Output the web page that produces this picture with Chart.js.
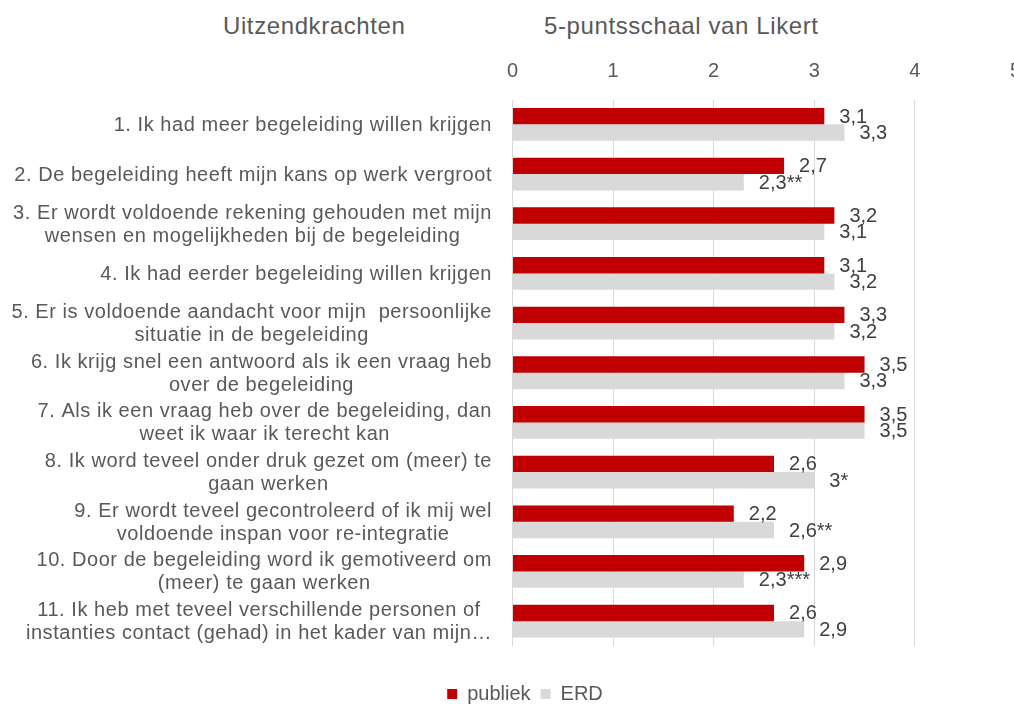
<!DOCTYPE html>
<html lang="nl">
<head>
    <meta charset="UTF-8">
    <title>Uitzendkrachten - 5-puntsschaal van Likert</title>
    <script src="https://cdn.jsdelivr.net/npm/chart.js"></script>
    <style>
        body {
            margin: 0;
            padding: 0;
            background: #ffffff;
            width: 1014px;
            height: 704px;
            overflow: hidden;
            position: relative;
            font-family: 'Liberation Sans', Arial, sans-serif;
        }

        .head {
            position: absolute;
            top: 14px;
            font-size: 24px;
            line-height: 24px;
            letter-spacing: 0.6px;
            color: #595959;
            white-space: nowrap;
        }

        #chart {
            position: absolute;
            left: 0;
            top: 0;
        }
    </style>
</head>
<body>
    <div class="head" style="left: 223px;">Uitzendkrachten</div>
    <div class="head" style="left: 544px;">5-puntsschaal van Likert</div>

    <canvas id="chart" width="1037" height="714"></canvas>

    <script>
        // statements (category labels, wrapped like the original)
        const categories = [
            ['1. Ik had meer begeleiding willen krijgen'],
            ['2. De begeleiding heeft mijn kans op werk vergroot'],
            ['3. Er wordt voldoende rekening gehouden met mijn', 'wensen en mogelijkheden bij de begeleiding'],
            ['4. Ik had eerder begeleiding willen krijgen'],
            ['5. Er is voldoende aandacht voor mijn  persoonlijke', 'situatie in de begeleiding'],
            ['6. Ik krijg snel een antwoord als ik een vraag heb', 'over de begeleiding'],
            ['7. Als ik een vraag heb over de begeleiding, dan', 'weet ik waar ik terecht kan'],
            ['8. Ik word teveel onder druk gezet om (meer) te', 'gaan werken'],
            ['9. Er wordt teveel gecontroleerd of ik mij wel', 'voldoende inspan voor re-integratie'],
            ['10. Door de begeleiding word ik gemotiveerd om', '(meer) te gaan werken'],
            ['11. Ik heb met teveel verschillende personen of', 'instanties contact (gehad) in het kader van mijn\u2026']
        ];

        // mean scores
        const publiek = [3.1, 2.7, 3.2, 3.1, 3.3, 3.5, 3.5, 2.6, 2.2, 2.9, 2.6];
        const erd = [3.3, 2.3, 3.1, 3.2, 3.2, 3.3, 3.5, 3.0, 2.6, 2.3, 2.9];

        // value labels as printed (with significance stars)
        const publiekLabels = ['3,1', '2,7', '3,2', '3,1', '3,3', '3,5', '3,5', '2,6', '2,2', '2,9', '2,6'];
        const erdLabels = ['3,3', '2,3**', '3,1', '3,2', '3,2', '3,3', '3,5', '3*', '2,6**', '2,3***', '2,9'];

        const xTicks = [0, 1, 2, 3, 4, 5];

        const textGrey = '#595959';
        const FONT = "'Liberation Sans', Arial, sans-serif";

        // category labels: block right-aligned next to the plot, lines centred inside the block
        const categoryLabels = {
            id: 'categoryLabels',
            afterDraw(chart) {
                const ctx = chart.ctx;
                const yScale = chart.scales.y;
                const right = chart.chartArea.left - 20.5;
                const lineH = 23;
                ctx.save();
                ctx.font = '20px ' + FONT;
                ctx.letterSpacing = '0.55px';
                ctx.fillStyle = textGrey;
                ctx.textAlign = 'center';
                ctx.textBaseline = 'middle';
                categories.forEach((lines, i) => {
                    const y = yScale.getPixelForValue(i);
                    const widest = Math.max(...lines.map(l => ctx.measureText(l).width));
                    const cx = right - widest / 2;
                    const top = y - (lines.length - 1) * lineH / 2;
                    lines.forEach((l, k) => ctx.fillText(l, cx, top + k * lineH + 1));
                });
                ctx.restore();
            }
        };

        // value labels just past the end of each bar
        const valueLabels = {
            id: 'valueLabels',
            afterDatasetsDraw(chart) {
                const ctx = chart.ctx;
                const sets = [publiekLabels, erdLabels];
                ctx.save();
                ctx.font = '20px ' + FONT;
                ctx.fillStyle = '#404040';
                ctx.textAlign = 'left';
                ctx.textBaseline = 'middle';
                chart.data.datasets.forEach((ds, d) => {
                    chart.getDatasetMeta(d).data.forEach((bar, i) => {
                        ctx.fillText(sets[d][i], bar.x + 15, bar.y + 1);
                    });
                });
                ctx.restore();
            }
        };

        new Chart(document.getElementById('chart'), {
            type: 'bar',
            data: {
                labels: categories.map(c => c.join(' ')),
                datasets: [
                    {
                        label: 'publiek',
                        data: publiek,
                        backgroundColor: '#C00000',
                        barPercentage: 1,
                        categoryPercentage: 0.66
                    },
                    {
                        label: 'ERD',
                        data: erd,
                        backgroundColor: '#D9D9D9',
                        barPercentage: 1,
                        categoryPercentage: 0.66
                    }
                ]
            },
            options: {
                indexAxis: 'y',
                responsive: false,
                animation: false,
                layout: {
                    padding: { left: 13, right: 0, top: 0, bottom: 0 }
                },
                plugins: {
                    tooltip: { enabled: false },
                    legend: {
                        position: 'bottom',
                        title: {
                            display: true,
                            text: '',
                            font: { size: 10 },
                            padding: { top: 16, bottom: 0 }
                        },
                        labels: {
                            color: textGrey,
                            font: { family: FONT, size: 20 },
                            boxWidth: 10,
                            boxHeight: 10,
                            padding: 10
                        }
                    }
                },
                scales: {
                    x: {
                        position: 'top',
                        min: 0,
                        max: 5,
                        afterBuildTicks(scale) {
                            scale.ticks = xTicks.map(v => ({ value: v }));
                        },
                        afterFit(scale) {
                            scale.height = 99.5;
                        },
                        grid: {
                            color: '#D9D9D9',
                            lineWidth: 1,
                            drawTicks: false
                        },
                        border: { display: false },
                        ticks: {
                            color: textGrey,
                            font: { family: FONT, size: 20 },
                            padding: 16,
                            maxRotation: 0
                        }
                    },
                    y: {
                        afterFit(scale) {
                            scale.width = 499.5;
                        },
                        grid: { display: false },
                        border: { display: false },
                        ticks: { display: false }
                    }
                }
            },
            plugins: [valueLabels, categoryLabels]
        });
    </script>
</body>
</html>
